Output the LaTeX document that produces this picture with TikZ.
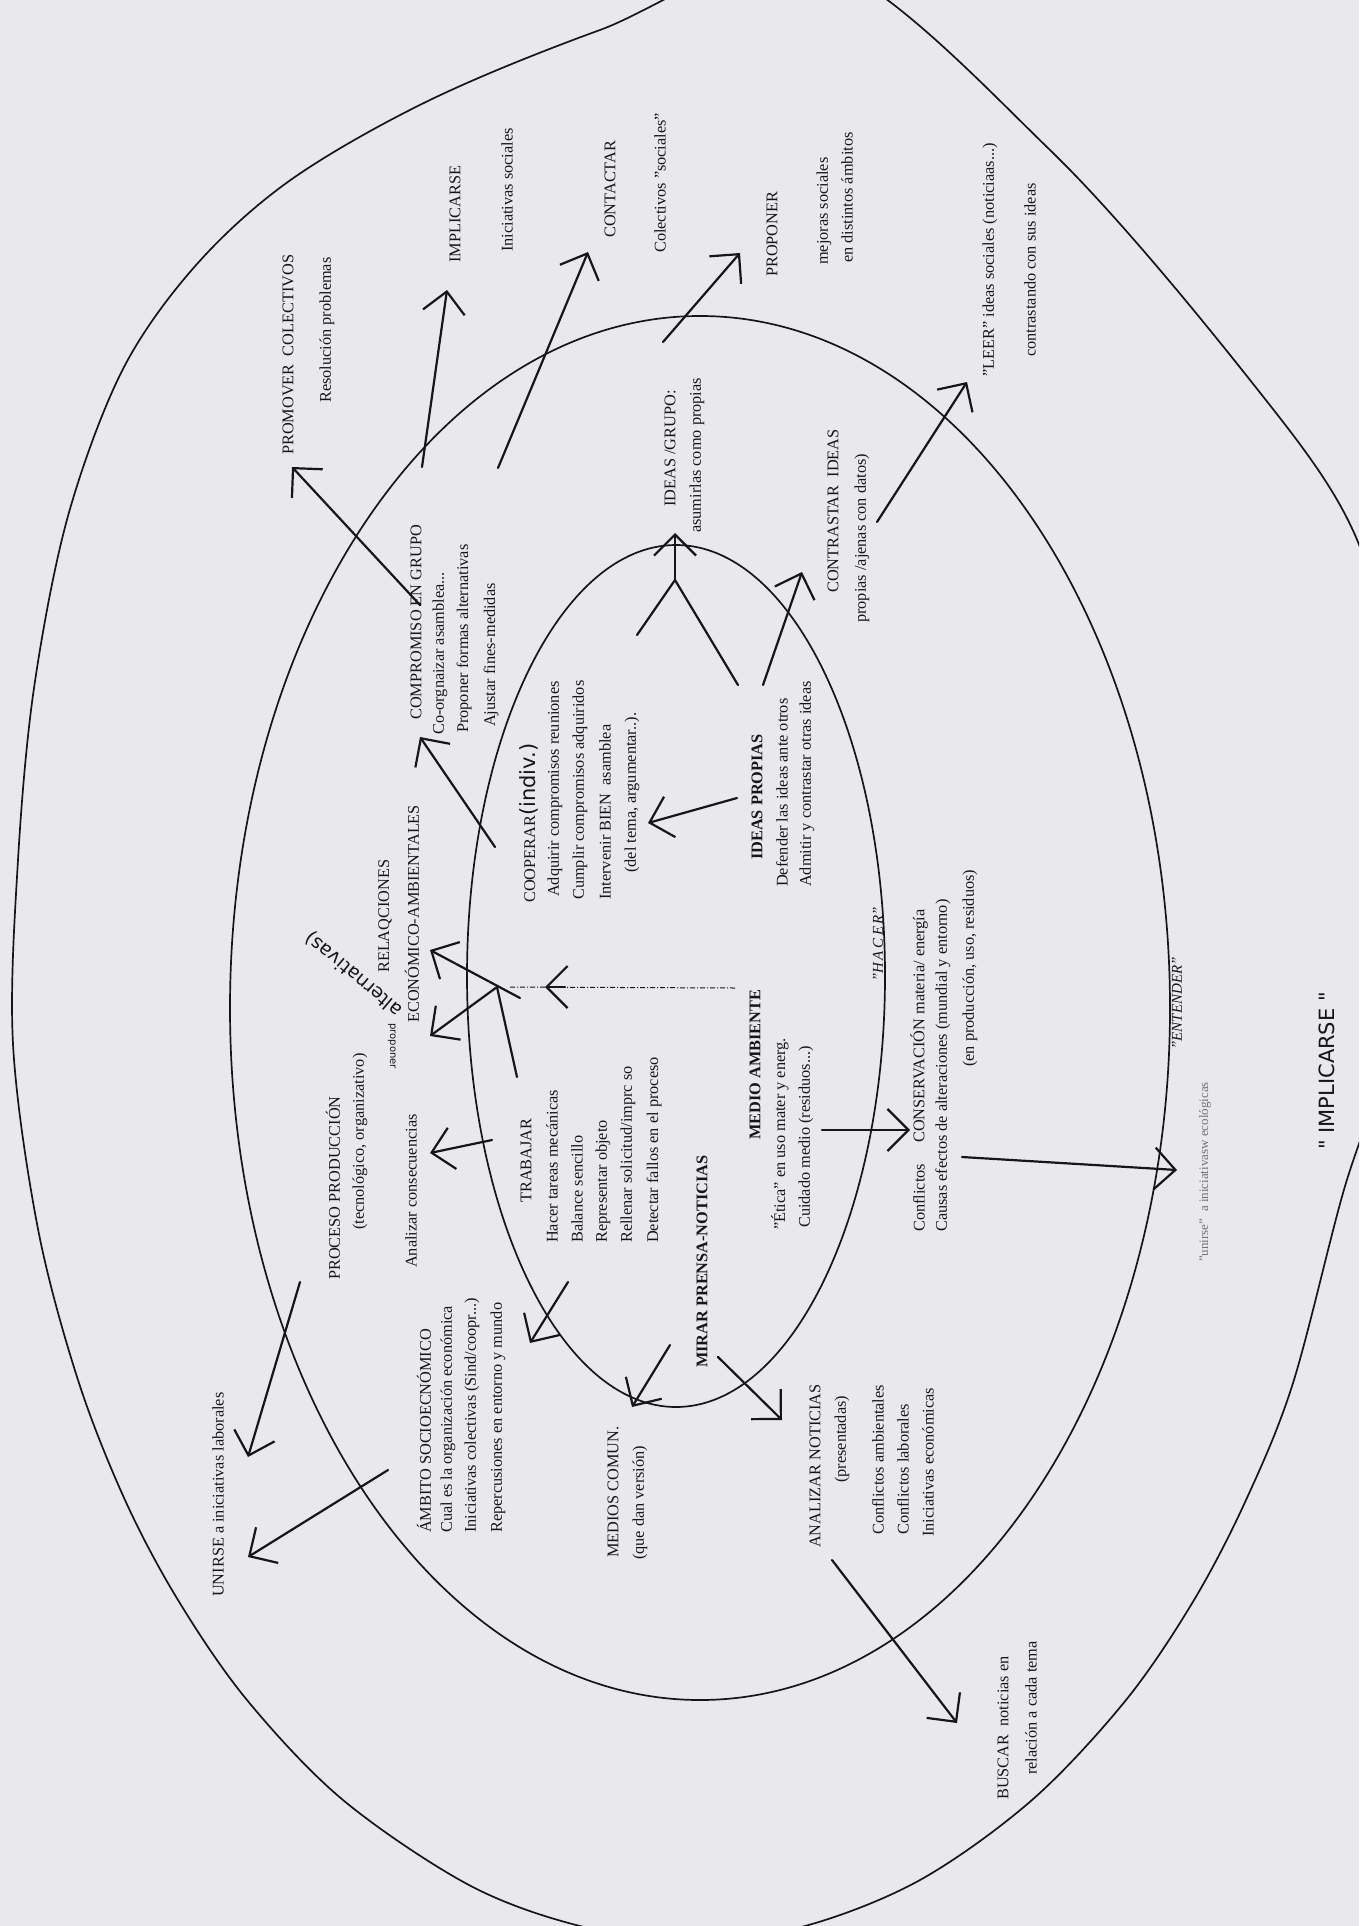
\documentclass[tikz,border=0pt]{standalone}
\usepackage{fontspec}
\setmainfont{Liberation Serif}
\newfontfamily\handfont{DejaVu Sans}
\usetikzlibrary{arrows.meta}
\definecolor{paper}{RGB}{233,233,237}
\definecolor{ink}{RGB}{22,22,22}
\begin{document}
\begin{tikzpicture}[x=1pt,y=-1pt,
  lbl/.style={rotate=90, anchor=west, inner sep=0pt, text=ink, font=\fontsize{16.3}{20}\selectfont},
  bl/.style={lbl, font=\bfseries\fontsize{16.3}{20}\selectfont},
  itl/.style={lbl, font=\itshape\fontsize{15}{18}\selectfont},
  ring/.style={draw=ink, line width=1.7pt},
  ln/.style={draw=ink, line width=2.2pt, line cap=round},
  arr/.style={ln, -{Straight Barb[length=21pt,width=42pt]}},
  dotline/.style={draw=ink, line width=1pt, dash pattern=on 5pt off 2pt on 1pt off 2pt}]
\useasboundingbox (0,0) rectangle (1359,1926);
\fill[paper] (0,0) rectangle (1359,1926);
% ---------- rings ----------
\begin{scope}
\clip (0,0) rectangle (1359,1926);
\draw[ring] plot[smooth cycle, tension=0.55] coordinates {(815,-40) (1050,150) (1250,380) (1355,535) (1400,720) (1405,900) (1385,1060) (1343,1193) (1293,1383) (1246,1500) (1194,1600) (1126,1700) (1032,1800) (920,1880) (805,1926) (693,1942) (580,1926) (469,1885) (343,1800) (247,1700) (178,1600) (125,1500) (78,1380) (38,1229) (13,1044) (18,860) (34,688) (68,516) (123,369) (197,264) (292,179) (430,100) (600,30)};
\end{scope}
\draw[ring] (700,1008) ellipse [x radius=470pt, y radius=692pt];
\draw[ring] (676,976) ellipse [x radius=209pt, y radius=431pt];
% ---------- outer ring texts ----------
\node[lbl] (promover) at (288,455) {PROMOVER\ \ COLECTIVOS};
\node[lbl] (resol) at (327,403) {Resolución problemas};
\node[lbl] (implicarse) at (455,263) {IMPLICARSE};
\node[lbl] (inisoc) at (507,252) {Iniciativas sociales};
\node[lbl] (contactar) at (610,238) {CONTACTAR};
\node[lbl] (colect) at (660,253) {Colectivos "sociales"};
\node[lbl] (proponer) at (772,277) {PROPONER};
\node[lbl] (mejoras) at (824,265) {mejoras sociales};
\node[lbl] (distintos) at (847,263) {en distintos ámbitos};
\node[lbl] (leer) at (990,377) {"LEER" ideas sociales (noticiaas...)};
\node[lbl] (contrastando) at (1030,357) {contrastando con sus ideas};
\node[lbl] (unirse) at (218,1597) {UNIRSE a iniciativas laborales};
\node[lbl] (buscar) at (1003,1800) {BUSCAR\ \ noticias en};
\node[lbl] (relacion) at (1031,1775) {relación a cada tema};
\node[itl] (entender) at (1177,1050) {"ENTENDER"};
\node[lbl, text=ink!60, font=\fontsize{13}{15}\selectfont] (unirseeco) at (1205,1262) {"unirse"\ \ a iniciativasw ecológicas};
\node[lbl, font=\handfont\fontsize{21}{22}\selectfont] (implbig) at (1327,1150) {"\ IMPLICARSE\ "};
% ---------- middle ring texts ----------
\node[lbl] (compromiso) at (416,720) {COMPROMISO EN GRUPO};
\node[lbl] (coorg) at (440,735) {Co-orgnaizar asamblea...};
\node[lbl] (propformas) at (464,733) {Proponer formas alternativas};
\node[lbl] (ajustar) at (491,727) {Ajustar fines-medidas};
\node[lbl] (relaq) at (385,973) {RELAQCIONES};
\node[lbl] (econ) at (412,1023) {ECONÓMICO-AMBIENTALES};
\node[lbl] (ideasgrupo) at (670,507) {IDEAS /GRUPO:};
\node[lbl] (asumirlas) at (697,533) {asumirlas como propias};
\node[lbl] (contrastar) at (833,593) {CONTRASTAR\ \ IDEAS};
\node[lbl] (propias) at (862,623) {propias /ajenas con datos)};
\node[lbl] (proceso) at (333,1280) {PROCESO PRODUCCIÓN};
\node[lbl] (tecno) at (360,1230) {(tecnológico, organizativo)};
\node[lbl] (analcons) at (411,1268) {Analizar consecuencias};
\node[lbl] (ambito) at (424,1533) {ÁMBITO SOCIOECNÓMICO};
\node[lbl] (cual) at (448,1533) {Cual es la organización económica};
\node[lbl] (inicol) at (472,1533) {Iniciativas colectivas (Sind/coopr...)};
\node[lbl] (reperc) at (498,1533) {Repercusiones en entorno y mundo};
\node[lbl] (medios) at (613,1558) {MEDIOS COMUN.};
\node[lbl] (quedan) at (640,1560) {(que dan versión)};
\node[lbl] (analizar) at (815,1548) {ANALIZAR NOTICIAS};
\node[lbl] (presentadas) at (842,1483) {(presentadas)};
\node[lbl] (confamb) at (878,1535) {Conflictos ambientales};
\node[lbl] (conflab) at (903,1535) {Conflictos laborales};
\node[lbl] (inieco) at (928,1537) {Iniciativas económicas};
\node[lbl] (conflictos) at (919,1232) {Conflictos};
\node[lbl] (conserv) at (919,1143) {CONSERVACIÓN materia/ energía};
\node[lbl] (causas) at (943,1232) {Causas efectos de alteraciones (mundial y entorno)};
\node[lbl] (enprod) at (970,1067) {(en producción, uso, residuos)};
\node[itl] (hacer) at (878,982) {"H\,A\,C\,E\,R"};
\node[lbl, rotate=50, font=\handfont\fontsize{19}{20}\selectfont] (altern) at (400,1013) {alternativas)};
\node[lbl, rotate=-180, anchor=center, font=\handfont\fontsize{10}{11}\selectfont] (aportar) at (392,1046) {proponer};
% ---------- inner texts ----------
\node[lbl, anchor=base west] (cooperar) at (535,903) {COOPERAR{\handfont\fontsize{21}{22}\selectfont(indiv.)}};
\node[lbl] (adquirir) at (555,897) {Adquirir compromisos reuniones};
\node[lbl] (cumplir) at (580,900) {Cumplir compromisos adquiridos};
\node[lbl] (intervenir) at (605,900) {Intervenir BIEN\ \ asamblea};
\node[lbl] (deltema) at (632,873) {(del tema, argumentar..).};
\node[bl] (ideasprop) at (757,860) {IDEAS PROPIAS};
\node[lbl] (defender) at (782,887) {Defender las ideas ante otros};
\node[lbl] (admitir) at (807,887) {Admitir y contrastar otras ideas};
\node[lbl] (trabajar) at (526,1203) {TRABAJAR};
\node[lbl] (tareas) at (552,1243) {Hacer tareas mecánicas};
\node[lbl] (balance) at (577,1243) {Balance sencillo};
\node[lbl] (represent) at (603,1243) {Representar objeto};
\node[lbl] (rellenar) at (628,1243) {Rellenar solicitud/imprc so};
\node[lbl] (detectar) at (654,1243) {Detectar fallos en el proceso};
\node[bl] (medioamb) at (755,1140) {MEDIO AMBIENTE};
\node[lbl] (etica) at (780,1230) {"Ética" en uso mater y energ.};
\node[lbl] (cuidado) at (806,1228) {Cuidado medio (residuos...)};
\node[bl] (mirar) at (702,1368) {MIRAR PRENSA-NOTICIAS};
% ---------- connector ends ----------
\coordinate (p1s) at (420,605); \coordinate (p1e) at (292,467);
\coordinate (p2s) at (422,467); \coordinate (p2e) at (447,290);
\coordinate (p3s) at (498,468); \coordinate (p3e) at (588,252);
\coordinate (p4s) at (663,342); \coordinate (p4e) at (740,253);
\coordinate (p5s) at (877,522); \coordinate (p5e) at (967,382);
\coordinate (ya) at (637,635); \coordinate (yb) at (738,685);
\coordinate (yj) at (675,580); \coordinate (ye) at (675,533);
\coordinate (p7s) at (763,685); \coordinate (p7e) at (802,572);
\coordinate (p8s) at (737,798); \coordinate (p8e) at (648,823);
\coordinate (p9s) at (495,847); \coordinate (p9e) at (420,737);
\coordinate (dots) at (735,988); \coordinate (dote) at (510,987);
\coordinate (dotm0) at (565,987); \coordinate (dotm) at (545,987);
\coordinate (t1s) at (517,1077); \coordinate (tj) at (497,987);
\coordinate (t2e) at (430,1036); \coordinate (t3s) at (520,998); \coordinate (t3e) at (430,950);
\coordinate (ans) at (492,1140); \coordinate (ane) at (430,1153);
\coordinate (tas) at (568,1282); \coordinate (tae) at (530,1343);
\coordinate (pus) at (300,1282); \coordinate (pue) at (248,1457);
\coordinate (aus) at (388,1470); \coordinate (aue) at (248,1557);
\coordinate (mms) at (670,1345); \coordinate (mme) at (632,1407);
\coordinate (mas) at (718,1357); \coordinate (mae) at (782,1420);
\coordinate (abs) at (832,1560); \coordinate (abe) at (957,1723);
\coordinate (mcs) at (822,1130); \coordinate (mce) at (910,1130);
\coordinate (ces) at (962,1157); \coordinate (cee) at (1177,1170);
% ---------- connectors ----------
\draw[arr] (p1s) -- (p1e);
\draw[arr] (p2s) -- (p2e);
\draw[arr] (p3s) -- (p3e);
\draw[arr] (p4s) -- (p4e);
\draw[arr] (p5s) -- (p5e);
\draw[ln] (ya) -- (yj) -- (yb);
\draw[arr] (yj) -- (ye);
\draw[arr] (p7s) -- (p7e);
\draw[arr] (p8s) -- (p8e);
\draw[arr] (p9s) -- (p9e);
\draw[dotline] (dots) -- (dote);
\draw[arr] (dotm0) -- (dotm);
\draw[ln] (t1s) -- (tj);
\draw[arr] (tj) -- (t2e);
\draw[arr] (t3s) -- (t3e);
\draw[arr] (ans) -- (ane);
\draw[arr] (tas) -- (tae);
\draw[arr] (pus) -- (pue);
\draw[arr] (aus) -- (aue);
\draw[arr] (mms) -- (mme);
\draw[arr] (mas) -- (mae);
\draw[arr] (abs) -- (abe);
\draw[arr] (mcs) -- (mce);
\draw[arr] (ces) -- (cee);
\end{tikzpicture}
\end{document}
